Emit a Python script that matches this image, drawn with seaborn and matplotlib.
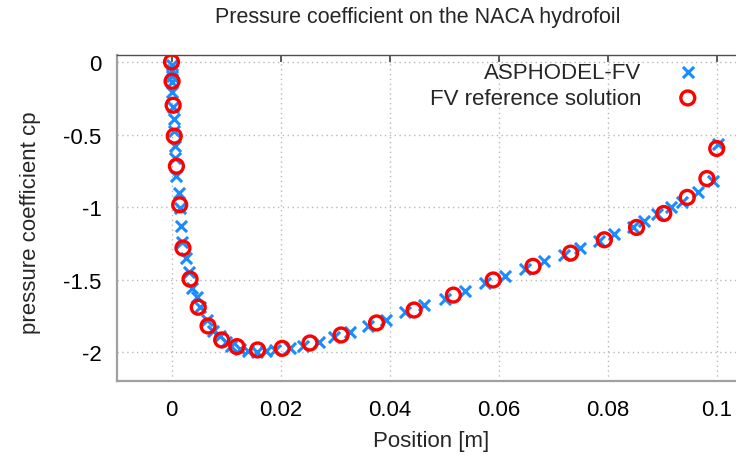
import matplotlib
matplotlib.use("Agg")
import matplotlib.pyplot as plt
import seaborn as sns
import pandas as pd

# ASPHODEL-FV (blue crosses)
asph_x = [0.0001, 0.0001, 0.0001, 0.0001, 0.00015, 0.0003, 0.0004, 0.0005, 0.0006, 0.0007,
          0.0009, 0.0013, 0.0015, 0.0017, 0.0020, 0.0026, 0.0032, 0.0038, 0.0046, 0.0052,
          0.0065, 0.0076, 0.0089, 0.0100, 0.0110, 0.0125, 0.0141, 0.0157, 0.0174, 0.0190,
          0.0217, 0.0241, 0.0271, 0.0298, 0.0327, 0.0361, 0.0394, 0.0429, 0.0463, 0.0501,
          0.0538, 0.0575, 0.0612, 0.0648, 0.0683, 0.0719, 0.0750, 0.0785, 0.0812, 0.0847,
          0.0867, 0.0891, 0.0917, 0.0936, 0.0966, 0.0994, 0.1003]
asph_cp = [-0.023, -0.057, -0.098, -0.140, -0.209, -0.312, -0.394, -0.477, -0.580, -0.663,
           -0.787, -0.904, -1.007, -1.131, -1.241, -1.351, -1.447, -1.558, -1.619, -1.688,
           -1.778, -1.853, -1.888, -1.929, -1.957, -1.977, -1.991, -1.996, -1.991, -1.984,
           -1.973, -1.955, -1.927, -1.897, -1.858, -1.817, -1.776, -1.725, -1.675, -1.633,
           -1.576, -1.523, -1.473, -1.427, -1.374, -1.330, -1.282, -1.232, -1.186, -1.140,
           -1.094, -1.048, -1.002, -0.963, -0.899, -0.819, -0.566]

# FV reference solution (red circles)
ref_x = [0.0, 0.0001, 0.0003, 0.0005, 0.0009, 0.0015, 0.0021, 0.0034, 0.0049, 0.0067,
         0.0092, 0.0120, 0.0158, 0.0203, 0.0254, 0.0311, 0.0376, 0.0445, 0.0517, 0.0590,
         0.0663, 0.0732, 0.0794, 0.0853, 0.0903, 0.0946, 0.0982, 0.1000]
ref_cp = [0.0, -0.133, -0.298, -0.511, -0.718, -0.984, -1.282, -1.496, -1.690, -1.819,
          -1.915, -1.961, -1.984, -1.973, -1.936, -1.881, -1.798, -1.709, -1.606, -1.502,
          -1.408, -1.317, -1.225, -1.140, -1.044, -0.933, -0.803, -0.596]

x_ticks = [0, 0.02, 0.04, 0.06, 0.08, 0.1]
x_tick_labels = ["0", "0.02", "0.04", "0.06", "0.08", "0.1"]
y_ticks = [0, -0.5, -1, -1.5, -2]
y_tick_labels = ["0", "-0.5", "-1", "-1.5", "-2"]

df_a = pd.DataFrame({"x": asph_x, "cp": asph_cp})
df_r = pd.DataFrame({"x": ref_x, "cp": ref_cp})

sns.set_style("white")
plt.rcParams["font.family"] = ["Liberation Sans", "DejaVu Sans"]

FS = 16

fig = plt.figure(figsize=(7.36, 4.56), dpi=100)
ax = fig.add_axes([117/736, 1 - 382.3/456, 1 - 117/736, (382.3 - 55.7)/456])

sns.scatterplot(data=df_a, x="x", y="cp", ax=ax, marker="x", color="#1a8cff",
                s=64, linewidth=2.2, label="ASPHODEL-FV", zorder=3)
sns.scatterplot(data=df_r, x="x", y="cp", ax=ax, marker="o", facecolor="none",
                edgecolor="#ff0000", s=100, linewidth=2.4, label="FV reference solution", zorder=4)

ax.set_xlim(-0.01, 0.10354)
ax.set_ylim(-2.2, 0.05)
ax.set_xticks(x_ticks)
ax.set_xticklabels(x_tick_labels)
ax.set_yticks(y_ticks)
ax.set_yticklabels(y_tick_labels)

ax.grid(True, color="#b8b8b8", linestyle=(0, (1, 2.5)), linewidth=1.0)
ax.set_axisbelow(True)

for side in ["left", "bottom"]:
    ax.spines[side].set_color("#a0a0a0")
    ax.spines[side].set_linewidth(1.6)
ax.spines["top"].set_color("#505050")
ax.spines["top"].set_linewidth(1.0)
ax.spines["right"].set_visible(False)

ax.tick_params(axis="both", direction="in", labelsize=FS, colors="#000000")
ax.tick_params(axis="x", length=5, width=1.2, color="#404040", top=True, pad=13)
ax.tick_params(axis="y", length=5, width=1.2, color="#909090", pad=11)

ax.set_xlabel("Position [m]", fontsize=FS)
ax.xaxis.set_label_coords(0.507, -0.15)
ax.set_ylabel("pressure coefficient cp", fontsize=FS)
ax.yaxis.set_label_coords(-0.123, 0.49)
fig.text(417.5 / 736, 1 - 18/456, "Pressure coefficient on the NACA hydrofoil",
         ha="center", va="center", fontsize=15.5)

leg = ax.legend(loc="upper right", bbox_to_anchor=(0.958, 0.978), markerfirst=False,
                frameon=False, fontsize=FS, borderaxespad=0, borderpad=0,
                handlelength=2.0, handletextpad=1.09, labelspacing=0.22)

fig.savefig("out.png", dpi=100)
